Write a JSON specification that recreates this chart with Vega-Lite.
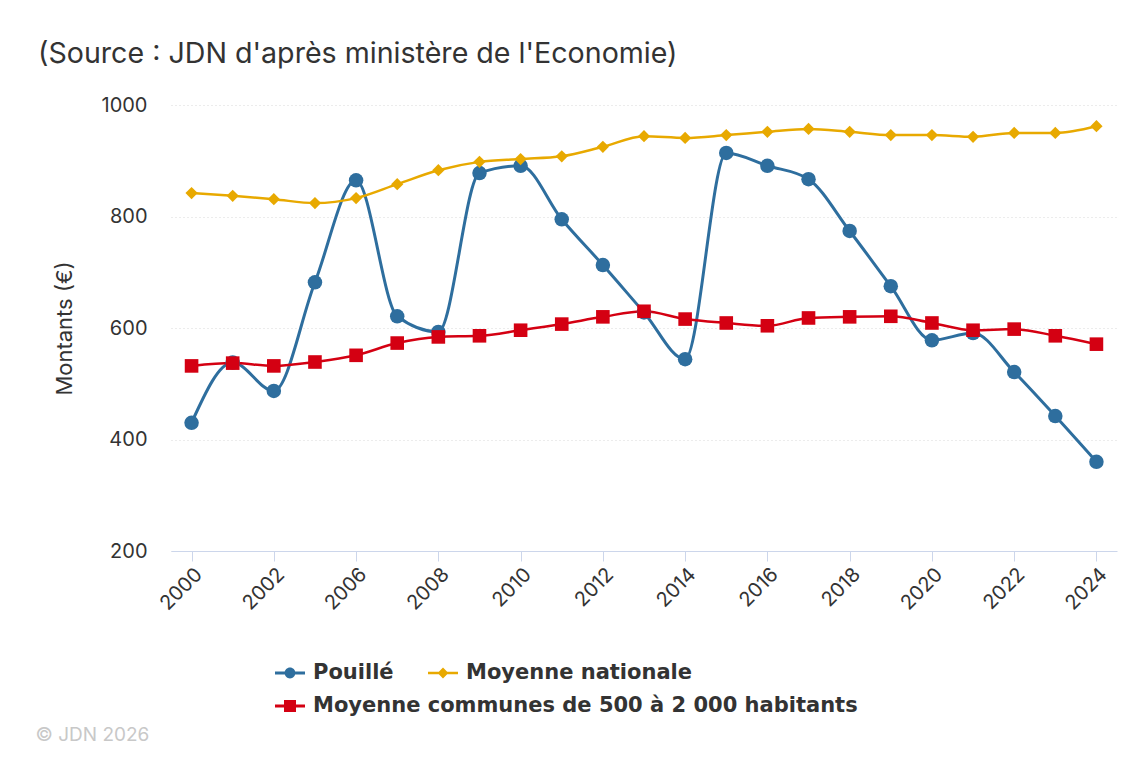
{
  "$schema": "https://vega.github.io/schema/vega-lite/v6.json",
  "autosize": {"type": "none"},
  "width": 946,
  "height": 446,
  "padding": {"left": 171, "top": 105, "right": 13, "bottom": 209},
  "background": "white",
  "config": {
    "font": "Inter",
    "view": {"stroke": null}
  },
  "title": {
    "text": "(Source : JDN d'après ministère de l'Economie)",
    "anchor": "start",
    "frame": "group",
    "dx": -133,
    "offset": 3,
    "baseline": "alphabetic",
    "fontSize": 28.6,
    "fontWeight": "normal",
    "color": "#333333"
  },
  "data": {
    "values": [
      {"year": "2000", "series": "Pouillé", "value": 430},
      {"year": "2001", "series": "Pouillé", "value": 538},
      {"year": "2002", "series": "Pouillé", "value": 487},
      {"year": "2005", "series": "Pouillé", "value": 682},
      {"year": "2006", "series": "Pouillé", "value": 865},
      {"year": "2007", "series": "Pouillé", "value": 621},
      {"year": "2008", "series": "Pouillé", "value": 593},
      {"year": "2009", "series": "Pouillé", "value": 878},
      {"year": "2010", "series": "Pouillé", "value": 891},
      {"year": "2011", "series": "Pouillé", "value": 795},
      {"year": "2012", "series": "Pouillé", "value": 713},
      {"year": "2013", "series": "Pouillé", "value": 628},
      {"year": "2014", "series": "Pouillé", "value": 544},
      {"year": "2015", "series": "Pouillé", "value": 914},
      {"year": "2016", "series": "Pouillé", "value": 891},
      {"year": "2017", "series": "Pouillé", "value": 867},
      {"year": "2018", "series": "Pouillé", "value": 774},
      {"year": "2019", "series": "Pouillé", "value": 675},
      {"year": "2020", "series": "Pouillé", "value": 578},
      {"year": "2021", "series": "Pouillé", "value": 591},
      {"year": "2022", "series": "Pouillé", "value": 521},
      {"year": "2023", "series": "Pouillé", "value": 442},
      {"year": "2024", "series": "Pouillé", "value": 360},
      {"year": "2000", "series": "Moyenne nationale", "value": 842},
      {"year": "2001", "series": "Moyenne nationale", "value": 837},
      {"year": "2002", "series": "Moyenne nationale", "value": 831},
      {"year": "2005", "series": "Moyenne nationale", "value": 824},
      {"year": "2006", "series": "Moyenne nationale", "value": 833},
      {"year": "2007", "series": "Moyenne nationale", "value": 858},
      {"year": "2008", "series": "Moyenne nationale", "value": 883},
      {"year": "2009", "series": "Moyenne nationale", "value": 898},
      {"year": "2010", "series": "Moyenne nationale", "value": 903},
      {"year": "2011", "series": "Moyenne nationale", "value": 908},
      {"year": "2012", "series": "Moyenne nationale", "value": 925},
      {"year": "2013", "series": "Moyenne nationale", "value": 944},
      {"year": "2014", "series": "Moyenne nationale", "value": 941},
      {"year": "2015", "series": "Moyenne nationale", "value": 946},
      {"year": "2016", "series": "Moyenne nationale", "value": 952},
      {"year": "2017", "series": "Moyenne nationale", "value": 957},
      {"year": "2018", "series": "Moyenne nationale", "value": 952},
      {"year": "2019", "series": "Moyenne nationale", "value": 946},
      {"year": "2020", "series": "Moyenne nationale", "value": 946},
      {"year": "2021", "series": "Moyenne nationale", "value": 943},
      {"year": "2022", "series": "Moyenne nationale", "value": 950},
      {"year": "2023", "series": "Moyenne nationale", "value": 950},
      {"year": "2024", "series": "Moyenne nationale", "value": 962},
      {"year": "2000", "series": "Moyenne communes de 500 à 2 000 habitants", "value": 532},
      {"year": "2001", "series": "Moyenne communes de 500 à 2 000 habitants", "value": 537},
      {"year": "2002", "series": "Moyenne communes de 500 à 2 000 habitants", "value": 532},
      {"year": "2005", "series": "Moyenne communes de 500 à 2 000 habitants", "value": 539},
      {"year": "2006", "series": "Moyenne communes de 500 à 2 000 habitants", "value": 551},
      {"year": "2007", "series": "Moyenne communes de 500 à 2 000 habitants", "value": 573},
      {"year": "2008", "series": "Moyenne communes de 500 à 2 000 habitants", "value": 584},
      {"year": "2009", "series": "Moyenne communes de 500 à 2 000 habitants", "value": 586},
      {"year": "2010", "series": "Moyenne communes de 500 à 2 000 habitants", "value": 596},
      {"year": "2011", "series": "Moyenne communes de 500 à 2 000 habitants", "value": 607},
      {"year": "2012", "series": "Moyenne communes de 500 à 2 000 habitants", "value": 620},
      {"year": "2013", "series": "Moyenne communes de 500 à 2 000 habitants", "value": 630},
      {"year": "2014", "series": "Moyenne communes de 500 à 2 000 habitants", "value": 616},
      {"year": "2015", "series": "Moyenne communes de 500 à 2 000 habitants", "value": 609},
      {"year": "2016", "series": "Moyenne communes de 500 à 2 000 habitants", "value": 604},
      {"year": "2017", "series": "Moyenne communes de 500 à 2 000 habitants", "value": 618},
      {"year": "2018", "series": "Moyenne communes de 500 à 2 000 habitants", "value": 620},
      {"year": "2019", "series": "Moyenne communes de 500 à 2 000 habitants", "value": 621},
      {"year": "2020", "series": "Moyenne communes de 500 à 2 000 habitants", "value": 609},
      {"year": "2021", "series": "Moyenne communes de 500 à 2 000 habitants", "value": 596},
      {"year": "2022", "series": "Moyenne communes de 500 à 2 000 habitants", "value": 598},
      {"year": "2023", "series": "Moyenne communes de 500 à 2 000 habitants", "value": 586},
      {"year": "2024", "series": "Moyenne communes de 500 à 2 000 habitants", "value": 571}
    ]
  },
  "encoding": {
    "x": {
      "field": "year",
      "type": "ordinal",
      "scale": {"type": "point", "padding": 0.5},
      "axis": {
        "values": ["2000", "2002", "2006", "2008", "2010", "2012", "2014", "2016", "2018", "2020", "2022", "2024"],
        "labelAngle": -45,
        "labelFontSize": 20,
        "labelColor": "#333333",
        "labelPadding": 3,
        "domainColor": "#ccd6eb",
        "tickColor": "#ccd6eb",
        "tickSize": 10,
        "grid": false,
        "title": "© JDN 2026",
        "titleAnchor": "start",
        "titleAlign": "left",
        "titleBaseline": "alphabetic",
        "titleX": -136,
        "titleY": 189,
        "titleFontSize": 19,
        "titleFontWeight": "normal",
        "titleColor": "#c8c8c8"
      }
    },
    "y": {
      "field": "value",
      "type": "quantitative",
      "scale": {"domain": [200, 1000], "nice": false, "zero": false},
      "axis": {
        "values": [200, 400, 600, 800, 1000],
        "format": "d",
        "title": "Montants (€)",
        "titleFontSize": 22,
        "titleFontWeight": "normal",
        "titleColor": "#333333",
        "titlePadding": 25,
        "labelFontSize": 20,
        "labelColor": "#333333",
        "labelPadding": 24,
        "ticks": false,
        "domain": false,
        "grid": true,
        "gridColor": "#d9d9d9",
        "gridDash": [1, 3],
        "gridWidth": 1
      }
    }
  },
  "layer": [
    {
      "transform": [{"filter": "datum.series != 'Moyenne communes de 500 à 2 000 habitants'"}],
      "mark": {"type": "line", "interpolate": "monotone"},
      "encoding": {
        "color": {
          "field": "series",
          "type": "nominal",
          "scale": {
            "domain": ["Pouillé", "Moyenne nationale", "Moyenne communes de 500 à 2 000 habitants"],
            "range": ["#2e6e9e", "#e8a900", "#d40012"]
          },
          "legend": {
            "title": null,
            "values": ["Pouillé", "Moyenne nationale"],
            "orient": "none",
            "legendX": 104,
            "legendY": 553,
            "direction": "horizontal",
            "columnPadding": 34,
            "symbolSize": 900,
            "labelOffset": 8,
            "labelFont": "DejaVu Sans",
            "labelFontSize": 21,
            "labelFontWeight": "bold",
            "labelColor": "#333333",
            "labelLimit": 700,
            "encode": {
              "symbols": {
                "update": {
                  "shape": {"signal": "datum.value == 'Pouillé' ? 'M-1,-0.1H1V0.1H-1Z M0.36,0A0.36,0.36 0 1,1 -0.36,0A0.36,0.36 0 1,1 0.36,0Z' : 'M-1,-0.08H1V0.08H-1Z M0,-0.36L0.36,0L0,0.36L-0.36,0Z'"},
                  "fill": {"signal": "scale('color', datum.value)"},
                  "fillOpacity": {"value": 1},
                  "strokeWidth": {"value": 0}
                }
              }
            }
          }
        },
        "strokeWidth": {
          "condition": {"test": "datum.series == 'Pouillé'", "value": 3},
          "value": 2.5
        }
      }
    },
    {
      "transform": [{"filter": "datum.series == 'Moyenne communes de 500 à 2 000 habitants'"}],
      "mark": {"type": "line", "interpolate": "monotone", "strokeWidth": 2.5},
      "encoding": {
        "color": {
          "field": "series",
          "type": "nominal",
          "legend": {
            "title": null,
            "values": ["Moyenne communes de 500 à 2 000 habitants"],
            "orient": "none",
            "legendX": 104,
            "legendY": 586,
            "direction": "horizontal",
            "symbolSize": 900,
            "labelOffset": 8,
            "labelFont": "DejaVu Sans",
            "labelFontSize": 21,
            "labelFontWeight": "bold",
            "labelColor": "#333333",
            "labelLimit": 700,
            "encode": {
              "symbols": {
                "update": {
                  "shape": {"value": "M-1,-0.1H1V0.1H-1Z M-0.4,-0.4H0.4V0.4H-0.4Z"},
                  "fill": {"signal": "scale('color', datum.value)"},
                  "fillOpacity": {"value": 1},
                  "strokeWidth": {"value": 0}
                }
              }
            }
          }
        }
      }
    },
    {
      "mark": {"type": "point", "filled": true, "opacity": 1, "strokeWidth": 0},
      "encoding": {
        "color": {"field": "series", "type": "nominal", "legend": null},
        "shape": {
          "condition": [
            {"test": "datum.series == 'Pouillé'", "value": "circle"},
            {"test": "datum.series == 'Moyenne nationale'", "value": "diamond"}
          ],
          "value": "square"
        },
        "size": {
          "condition": [
            {"test": "datum.series == 'Pouillé'", "value": 210},
            {"test": "datum.series == 'Moyenne nationale'", "value": 150}
          ],
          "value": 185
        }
      }
    }
  ],
  "resolve": {"legend": {"color": "independent"}}
}
